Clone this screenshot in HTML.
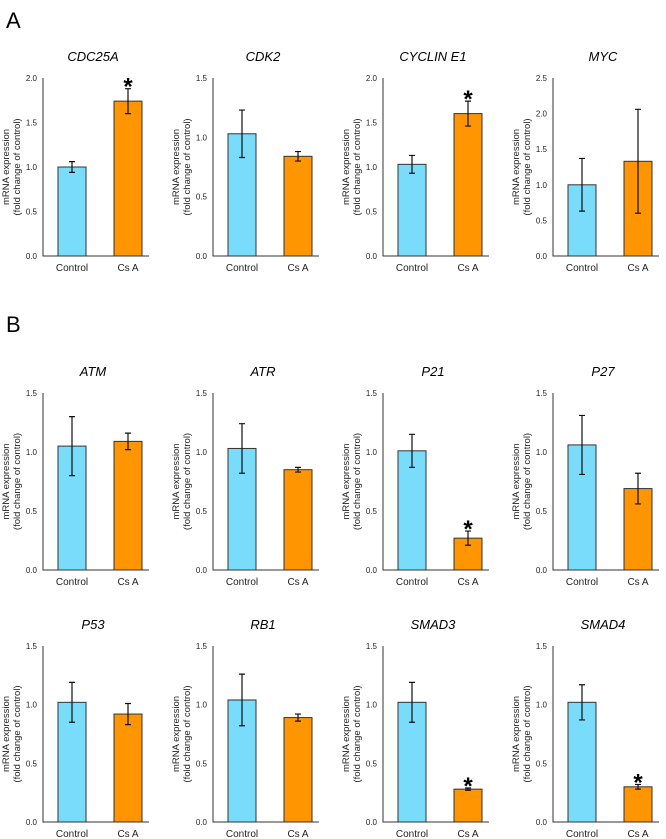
<!DOCTYPE html>
<html><head><meta charset="utf-8"><style>
body{margin:0;background:#fff;}
svg{display:block;font-family:"Liberation Sans",Arial,sans-serif;}
</style></head><body>
<svg id="fig" width="666" height="839" viewBox="0 0 666 839" xmlns="http://www.w3.org/2000/svg">
<text x="6" y="28" font-size="22">A</text>
<text x="6" y="332" font-size="22">B</text>
</svg>
<script>
const genes=["CDC25A","CDK2","CYCLIN E1","MYC","ATM","ATR","P21","P27","P53","RB1","SMAD3","SMAD4"];
const categories=["Control","Cs A"];
const controlMeans=[1.00,1.03,1.03,1.00,1.05,1.03,1.01,1.06,1.02,1.04,1.02,1.02];
const controlErr=[0.06,0.20,0.10,0.37,0.25,0.21,0.14,0.25,0.17,0.22,0.17,0.15];
const csaMeans=[1.74,0.84,1.60,1.33,1.09,0.85,0.27,0.69,0.92,0.89,0.28,0.30];
const csaErr=[0.14,0.04,0.14,0.73,0.07,0.02,0.06,0.13,0.09,0.03,0.01,0.02];
const significant=[true,false,true,false,false,false,true,false,false,false,true,true];
const yMax=[2.0,1.5,2.0,2.5,1.5,1.5,1.5,1.5,1.5,1.5,1.5,1.5];
const NS="http://www.w3.org/2000/svg";
const svg=document.getElementById('fig');
const rowTop=[78,393,646], rowBot=[256,570,822];
const colX=[43,213,383,553];
const fills=["#7adcfb","#ff9500"];
function mk(tag,attrs,parent){const e=document.createElementNS(NS,tag);for(const k in attrs)e.setAttribute(k,attrs[k]);(parent||svg).appendChild(e);return e;}
genes.forEach((g,i)=>{
  const r=Math.floor(i/4), c=i%4;
  const ax=colX[c], top=rowTop[r], bot=rowBot[r];
  const grp=mk('g',{});
  
  
  const y=v=>bot-(v/yMax[i])*(bot-top);
  const t=mk('text',{x:ax+50,y:top-17,'font-size':13,'font-style':'italic','text-anchor':'middle'},grp);t.textContent=g;
  
  
  for(let v=0;v<=yMax[i]+1e-9;v+=0.5){
    const tl=mk('text',{x:ax-6,y:y(v)+3,'font-size':8,'text-anchor':'end',fill:'#222'},grp);tl.textContent=v.toFixed(1);
    
    
  }
  const yl=mk('text',{transform:`translate(${ax-29},${(top+bot)/2}) rotate(-90)`,'font-size':9.5,'text-anchor':'middle',fill:'#222'},grp);
  
  
  const t1=mk('tspan',{x:0,dy:-5},yl);t1.textContent='mRNA expression';
  const t2=mk('tspan',{x:0,dy:11},yl);t2.textContent='(fold change of control)';
  const means=[controlMeans[i],csaMeans[i]], errs=[controlErr[i],csaErr[i]];
  means.forEach((m,k)=>{
    const bx=ax+15+k*56, w=28;
    const b=mk('rect',{x:bx,y:y(m),width:w,height:bot-y(m),fill:fills[k],stroke:'#333','stroke-width':1},grp);
    
    
    const cx=bx+w/2, hi=y(m+errs[k]), lo=y(m-errs[k]);
    const e=mk('path',{d:`M${cx},${hi}V${lo}M${cx-3},${hi}H${cx+3}M${cx-3},${lo}H${cx+3}`,stroke:'#111','stroke-width':1.2,fill:'none'},grp);
    
    
    const xl=mk('text',{x:cx,y:bot+15,'font-size':10,'text-anchor':'middle',fill:'#222'},grp);xl.textContent=categories[k];
    
    
    if(k===1&&significant[i]){
      const s=mk('text',{x:cx,y:hi+6,'font-size':24,'text-anchor':'middle','font-weight':'bold'},grp);s.textContent='*';
      
      
    }
  });
  const axl=mk('path',{d:`M${ax},${top}V${bot}H${ax+106}`,stroke:'#333','stroke-width':1,fill:'none'},grp);
  
  
});
</script>
</body></html>
